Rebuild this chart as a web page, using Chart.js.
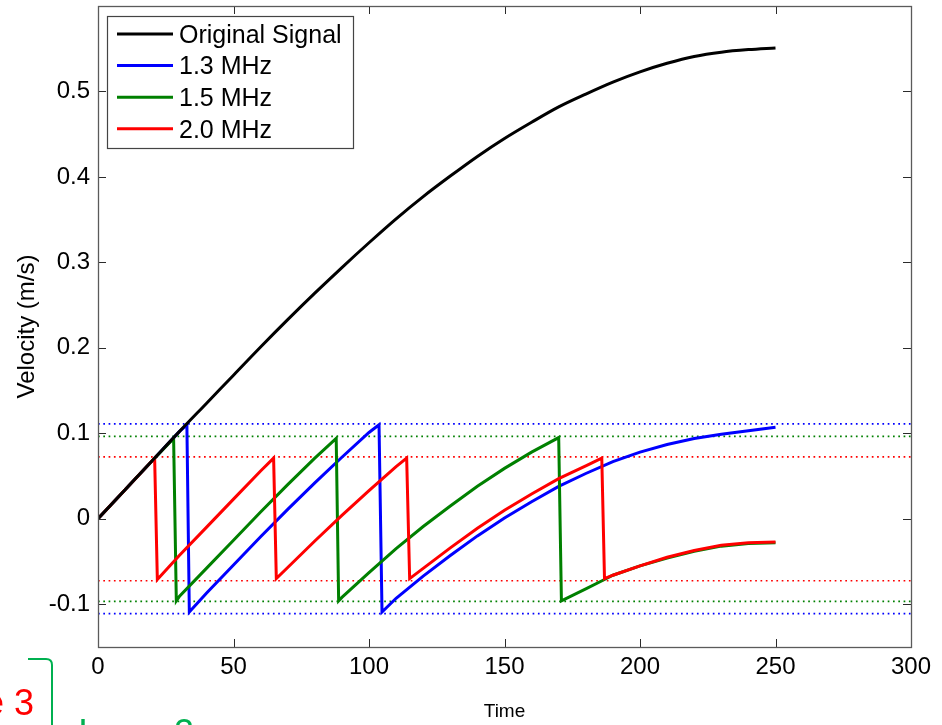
<!DOCTYPE html>
<html>
<head>
<meta charset="utf-8">
<script src="https://cdn.jsdelivr.net/npm/chart.js@4.4.1/dist/chart.umd.min.js"></script>
<style>
  html, body { margin: 0; padding: 0; background: #fff; }
  #wrap { width: 942px; height: 725px; position: relative; }
</style>
</head>
<body>
<div id="wrap"><canvas id="aliasChart"></canvas></div>
<script>
// values
const originalTime = [0, 10, 20, 30, 40, 50, 60, 70, 80, 90, 100, 110, 120, 130, 140, 150, 160, 170, 180, 190, 200, 210, 220, 230, 240, 250];
const originalVel = [0, 0.034, 0.068, 0.102, 0.135, 0.168, 0.201, 0.233, 0.264, 0.294, 0.323, 0.351, 0.377, 0.401, 0.424, 0.445, 0.464, 0.482, 0.497, 0.511, 0.523, 0.533, 0.541, 0.546, 0.549, 0.551];

const mhz13Time = [0, 10, 20, 30, 32.8, 33.7, 40, 50, 60, 70, 80, 90, 100, 103.7, 104.8, 110, 120, 130, 140, 150, 160, 170, 180, 190, 200, 210, 220, 230, 240, 250];
const mhz13Vel = [0, 0.034, 0.068, 0.102, 0.110, -0.109, -0.087, -0.054, -0.021, 0.011, 0.042, 0.072, 0.101, 0.110, -0.109, -0.093, -0.067, -0.043, -0.020, 0.001, 0.020, 0.038, 0.053, 0.067, 0.078, 0.087, 0.094, 0.099, 0.103, 0.107];

const mhz15Time = [0, 10, 20, 27.9, 28.9, 30, 40, 50, 60, 70, 80, 87.9, 88.8, 90, 100, 110, 120, 130, 140, 150, 160, 170, 171, 180, 186.9, 190, 200, 210, 220, 230, 240, 250];
const mhz15Vel = [0, 0.034, 0.068, 0.094, -0.096, -0.091, -0.058, -0.025, 0.008, 0.040, 0.071, 0.094, -0.096, -0.092, -0.063, -0.035, -0.009, 0.015, 0.038, 0.059, 0.078, 0.095, -0.096, -0.082, -0.071, -0.066, -0.055, -0.046, -0.038, -0.032, -0.029, -0.028];

const mhz20Time = [0, 10, 20, 20.9, 21.9, 30, 40, 50, 60, 64.8, 65.8, 70, 80, 90, 100, 110, 113.9, 115, 120, 130, 140, 150, 160, 170, 180, 185.9, 186.9, 190, 200, 210, 220, 230, 240, 250];
const mhz20Vel = [0, 0.034, 0.068, 0.071, -0.071, -0.043, -0.010, 0.023, 0.056, 0.071, -0.070, -0.057, -0.026, 0.004, 0.033, 0.061, 0.071, -0.070, -0.058, -0.034, -0.011, 0.010, 0.029, 0.047, 0.062, 0.071, -0.070, -0.066, -0.055, -0.045, -0.037, -0.031, -0.028, -0.027];

// aliasing limits (dotted lines) for 1.3, 1.5, 2.0 MHz
const limitVel = [0.111, 0.0965, 0.0725];
const limitSpan = [0, 300];

const seriesLabels = ["Original Signal", "1.3 MHz", "1.5 MHz", "2.0 MHz"];
const seriesColors = ["#000000", "#0000ff", "#008000", "#ff0000"];

const xTicks = [0, 50, 100, 150, 200, 250, 300];
const yTicks = [-0.1, 0, 0.1, 0.2, 0.3, 0.4, 0.5];

const FONT = "'Liberation Sans', Arial, sans-serif";

function toPoints(ts, vs) {
  return ts.map((t, i) => ({ x: t, y: vs[i] }));
}

const datasets = [];
const seriesData = [
  [originalTime, originalVel],
  [mhz13Time, mhz13Vel],
  [mhz15Time, mhz15Vel],
  [mhz20Time, mhz20Vel]
];
// lower order is painted on top: black over red over green over blue
const seriesOrder = [0, 3, 2, 1];
seriesData.forEach((s, i) => {
  datasets.push({
    label: seriesLabels[i],
    data: toPoints(s[0], s[1]),
    borderColor: seriesColors[i],
    borderWidth: 3,
    pointRadius: 0,
    // only the smooth original curve gets interpolation, the wrapped ones keep sharp corners
    cubicInterpolationMode: i === 0 ? "monotone" : "default",
    tension: 0,
    order: seriesOrder[i]
  });
});
limitVel.forEach((v, i) => {
  [v, -v].forEach(lv => {
    datasets.push({
      label: "limit",
      data: toPoints(limitSpan, [lv, lv]),
      borderColor: seriesColors[i + 1],
      borderWidth: 1.7,
      borderDash: [1.7, 3.6],
      pointRadius: 0,
      order: 10
    });
  });
});

const frameAndTicks = {
  id: "frameAndTicks",
  afterDraw(chart) {
    const { ctx, chartArea: a, scales: { x, y } } = chart;
    ctx.save();
    ctx.strokeStyle = "#2b2b2b";
    ctx.lineWidth = 1;
    ctx.beginPath();
    x.ticks.forEach(t => {
      const px = Math.round(x.getPixelForValue(t.value)) + 0.5;
      ctx.moveTo(px, a.bottom); ctx.lineTo(px, a.bottom - 8);
      ctx.moveTo(px, a.top); ctx.lineTo(px, a.top + 8);
    });
    y.ticks.forEach(t => {
      const py = Math.round(y.getPixelForValue(t.value)) + 0.5;
      ctx.moveTo(a.left, py); ctx.lineTo(a.left + 8, py);
      ctx.moveTo(a.right, py); ctx.lineTo(a.right - 8, py);
    });
    ctx.stroke();
    ctx.strokeStyle = "#5a5a5a";
    ctx.lineWidth = 1.3;
    ctx.strokeRect(Math.round(a.left) + 0.5, Math.round(a.top) + 0.5,
      Math.round(a.right - a.left), Math.round(a.bottom - a.top));
    ctx.restore();
  }
};

const boxLegend = {
  id: "boxLegend",
  afterDraw(chart) {
    const { ctx } = chart;
    const left = 107, top = 16, w = 246, h = 132;
    ctx.save();
    ctx.fillStyle = "#fff";
    ctx.fillRect(left, top, w, h);
    ctx.strokeStyle = "#444";
    ctx.lineWidth = 1.2;
    ctx.strokeRect(left + 0.5, top + 0.5, w, h);
    ctx.font = "25px " + FONT;
    ctx.textBaseline = "middle";
    ctx.fillStyle = "#000";
    for (let i = 0; i < 4; i++) {
      const ds = chart.data.datasets[i];
      const ly = top + 18 + i * 31.6;
      ctx.strokeStyle = ds.borderColor;
      ctx.lineWidth = 3;
      ctx.beginPath();
      ctx.moveTo(117, ly); ctx.lineTo(173, ly);
      ctx.stroke();
      ctx.fillText(ds.label, 179, ly + 2);
    }
    ctx.restore();
  }
};

// leftovers of the slide the figure was cut from
const slideBits = {
  id: "slideBits",
  afterDraw(chart) {
    const { ctx } = chart;
    ctx.save();
    ctx.font = "36px " + FONT;
    ctx.fillStyle = "#ff0000";
    ctx.textAlign = "right";
    ctx.textBaseline = "alphabetic";
    ctx.fillText("Issue 3", 34, 715);
    ctx.fillStyle = "#00b050";
    ctx.textAlign = "left";
    ctx.fillText("Issue 2", 78, 745);
    ctx.strokeStyle = "#00b050";
    ctx.lineWidth = 2;
    ctx.beginPath();
    ctx.moveTo(28, 659);
    ctx.lineTo(46, 659);
    ctx.quadraticCurveTo(52, 659, 52, 665);
    ctx.lineTo(52, 725);
    ctx.stroke();
    ctx.restore();
  }
};

new Chart(document.getElementById("aliasChart"), {
  type: "line",
  data: { datasets: datasets },
  options: {
    responsive: true,
    maintainAspectRatio: false,
    animation: false,
    layout: { padding: { top: 6, right: 31, left: 0, bottom: 0 } },
    plugins: { legend: { display: false }, tooltip: { enabled: false } },
    scales: {
      x: {
        type: "linear",
        min: 0,
        max: 300,
        afterBuildTicks: s => { s.ticks = xTicks.map(v => ({ value: v })); },
        afterFit: s => { s.height = 78; s.paddingLeft = 0; s.paddingRight = 0; },
        grid: { display: false, drawTicks: false },
        border: { display: false },
        ticks: { color: "#000", padding: 6, maxRotation: 0, font: { family: FONT, size: 24 } },
        title: { display: true, text: "Time", color: "#000", padding: { top: 0, bottom: 2 }, font: { family: FONT, size: 19 } }
      },
      y: {
        type: "linear",
        min: -0.15,
        max: 0.6,
        afterBuildTicks: s => { s.ticks = yTicks.map(v => ({ value: v })); },
        afterFit: s => { s.width = 98; s.paddingTop = 0; s.paddingBottom = 0; },
        grid: { display: false, drawTicks: false },
        border: { display: false },
        ticks: { color: "#000", padding: 8, font: { family: FONT, size: 24 }, callback: v => String(Math.round(v * 10) / 10) },
        title: { display: true, text: "Velocity (m/s)", color: "#000", padding: { top: 13, bottom: 0 }, font: { family: FONT, size: 24 } }
      }
    }
  },
  plugins: [frameAndTicks, boxLegend, slideBits]
});
</script>
</body>
</html>
